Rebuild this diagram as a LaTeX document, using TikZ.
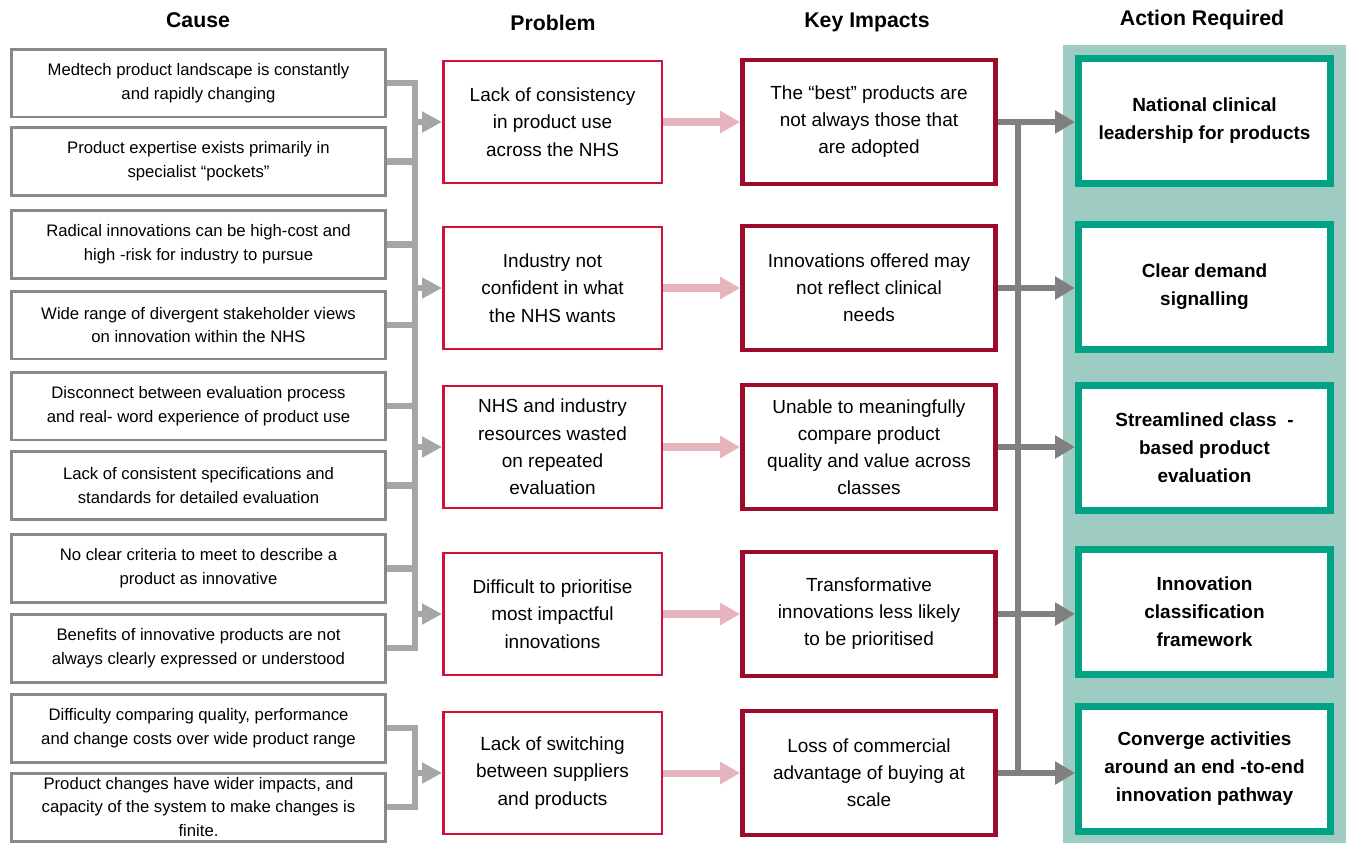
\documentclass[tikz,border=0pt]{standalone}
\usepackage{fontspec}
\setmainfont{Liberation Sans}
\usetikzlibrary{arrows.meta}
\definecolor{causegray}{RGB}{137,137,137}
\definecolor{feedgray}{RGB}{166,166,166}
\definecolor{outgray}{RGB}{128,128,128}
\definecolor{probred}{RGB}{212,16,56}
\definecolor{impred}{RGB}{158,10,42}
\definecolor{arrowpink}{RGB}{229,180,188}
\definecolor{tealbg}{RGB}{158,203,194}
\definecolor{actgreen}{RGB}{0,163,132}

\begin{document}
\begin{tikzpicture}[
			x=0.02cm, y=-0.02cm,
			cause/.style={draw=causegray, line width=1.7pt, fill=white, minimum width=7.48cm, minimum height=1.36cm, inner sep=0pt, align=center, font=\fontsize{9.5}{13.6}\selectfont},
			prob/.style={draw=probred, line width=1.4pt, fill=white, minimum width=4.37cm, minimum height=2.45cm, inner sep=0pt, align=center, font=\fontsize{10.8}{15.6}\selectfont, execute at begin node={\rule{0pt}{11pt}}},
			impact/.style={draw=impred, line width=2.8pt, fill=white, minimum width=5.06cm, minimum height=2.48cm, inner sep=0pt, align=center, font=\fontsize{10.8}{15.4}\selectfont, execute at begin node={\rule{0pt}{12.5pt}}},
			action/.style={draw=actgreen, line width=4pt, fill=white, minimum width=5.04cm, minimum height=2.5cm, inner sep=0pt, align=center, font=\bfseries\fontsize{10.8}{15.9}\selectfont, execute at begin node={\rule{0pt}{11.5pt}}},
			head/.style={font=\bfseries\fontsize{12.1}{14}\selectfont},
			feed/.style={draw=feedgray, line width=3.7pt, line join=miter},
			feedarrow/.style={draw=feedgray, line width=3.7pt, -{Triangle[length=11.3pt, width=11.3pt]}},
			pinkarrow/.style={draw=arrowpink, line width=4pt, -{Triangle[length=11.3pt, width=12pt]}},
			outline/.style={draw=outgray, line width=3.4pt},
			outarrow/.style={draw=outgray, line width=3.4pt, -{Triangle[length=11.3pt, width=12.5pt]}}
			]
			
			\useasboundingbox (0,0) rectangle (1346,843);
			\fill[tealbg] (1063,45) rectangle (1346,843);
			
			\node[head] (hcause) at (198,20) {Cause};
			\node[head] (hprob) at (553,23) {Problem};
			\node[head] (himp) at (867,22) {Key Impacts};
			\node[head] (hact) at (1202,20) {Action Required};
			
			% causes
			\node[cause] (c1) at (198.5,83) {Medtech product landscape is constantly\\and rapidly changing};
			\node[cause] (c2) at (198.5,161.5) {Product expertise exists primarily in\\specialist “pockets”};
			\node[cause] (c3) at (198.5,244.5) {Radical innovations can be high-cost and\\high -risk for industry to pursue};
			\node[cause] (c4) at (198.5,325) {Wide range of divergent stakeholder views\\on innovation within the NHS};
			\node[cause] (c5) at (198.5,406) {Disconnect between evaluation process\\and real- word experience of product use};
			\node[cause] (c6) at (198.5,485.5) {Lack of consistent specifications and\\standards for detailed evaluation};
			\node[cause] (c7) at (198.5,568.5) {No clear criteria to meet to describe a\\product as innovative};
			\node[cause] (c8) at (198.5,648) {Benefits of innovative products are not\\always clearly expressed or understood};
			\node[cause] (c9) at (198.5,728) {Difficulty comparing quality, performance\\and change costs over wide product range};
			\node[cause] (c10) at (198.5,807) {Product changes have wider impacts, and\\capacity of the system to make changes is\\finite.};
			
			% problems
			\node[prob] (p1) at (552.5,122) {Lack of consistency\\in product use\\across the NHS};
			\node[prob] (p2) at (552.5,288) {Industry not\\confident in what\\the NHS wants};
			\node[prob] (p3) at (552.5,447) {NHS and industry\\resources wasted\\on repeated\\evaluation};
			\node[prob] (p4) at (552.5,614) {Difficult to prioritise\\most impactful\\innovations};
			\node[prob] (p5) at (552.5,773) {Lack of switching\\between suppliers\\and products};
			
			% key impacts
			\node[impact] (i1) at (869,122) {The “best” products are\\not always those that\\are adopted};
			\node[impact] (i2) at (869,288) {Innovations offered may\\not reflect clinical\\needs};
			\node[impact] (i3) at (869,447) {Unable to meaningfully\\compare product\\quality and value across\\classes};
			\node[impact] (i4) at (869,614) {Transformative\\innovations less likely\\to be prioritised};
			\node[impact] (i5) at (869,773) {Loss of commercial\\advantage of buying at\\scale};
			
			% actions
			\node[action] (a1) at (1204.5,121) {National clinical\\leadership for products};
			\node[action] (a2) at (1204.5,287) {Clear demand\\signalling};
			\node[action] (a3) at (1204.5,448) {Streamlined class\ \ -\\based product\\evaluation};
			\node[action] (a4) at (1204.5,612) {Innovation\\classification\\framework};
			\node[action] (a5) at (1204.5,769) {Converge activities\\around an end -to-end\\innovation pathway};
			
			\coordinate (lbus) at (415,0);
			\coordinate (rbus) at (1018,0);
			
			\draw[feed] (c1.east) -| (c8.east -| lbus) -- (c8.east);
			\draw[feed] (c2.east) -- (c2.east -| lbus);
			\draw[feed] (c3.east) -- (c3.east -| lbus);
			\draw[feed] (c4.east) -- (c4.east -| lbus);
			\draw[feed] (c5.east) -- (c5.east -| lbus);
			\draw[feed] (c6.east) -- (c6.east -| lbus);
			\draw[feed] (c7.east) -- (c7.east -| lbus);
			\draw[feed] (c9.east) -| (c10.east -| lbus) -- (c10.east);
			
			\draw[feedarrow] (p1.west -| lbus) -- (p1.west);
			\draw[feedarrow] (p2.west -| lbus) -- (p2.west);
			\draw[feedarrow] (p3.west -| lbus) -- (p3.west);
			\draw[feedarrow] (p4.west -| lbus) -- (p4.west);
			\draw[feedarrow] (p5.west -| lbus) -- (p5.west);
			
			\draw[pinkarrow] (p1) -- (i1);
			\draw[pinkarrow] (p2) -- (i2);
			\draw[pinkarrow] (p3) -- (i3);
			\draw[pinkarrow] (p4) -- (i4);
			\draw[pinkarrow] (p5) -- (i5);
			
			\draw[outline] (i1.east -| rbus) -- (i5.east -| rbus);
			\draw[outarrow] (i1.east) -- (i1.east -| a1.west);
			\draw[outarrow] (i2.east) -- (i2.east -| a2.west);
			\draw[outarrow] (i3.east) -- (i3.east -| a3.west);
			\draw[outarrow] (i4.east) -- (i4.east -| a4.west);
			\draw[outarrow] (i5.east) -- (i5.east -| a5.west);
			
		\end{tikzpicture}
\end{document}
